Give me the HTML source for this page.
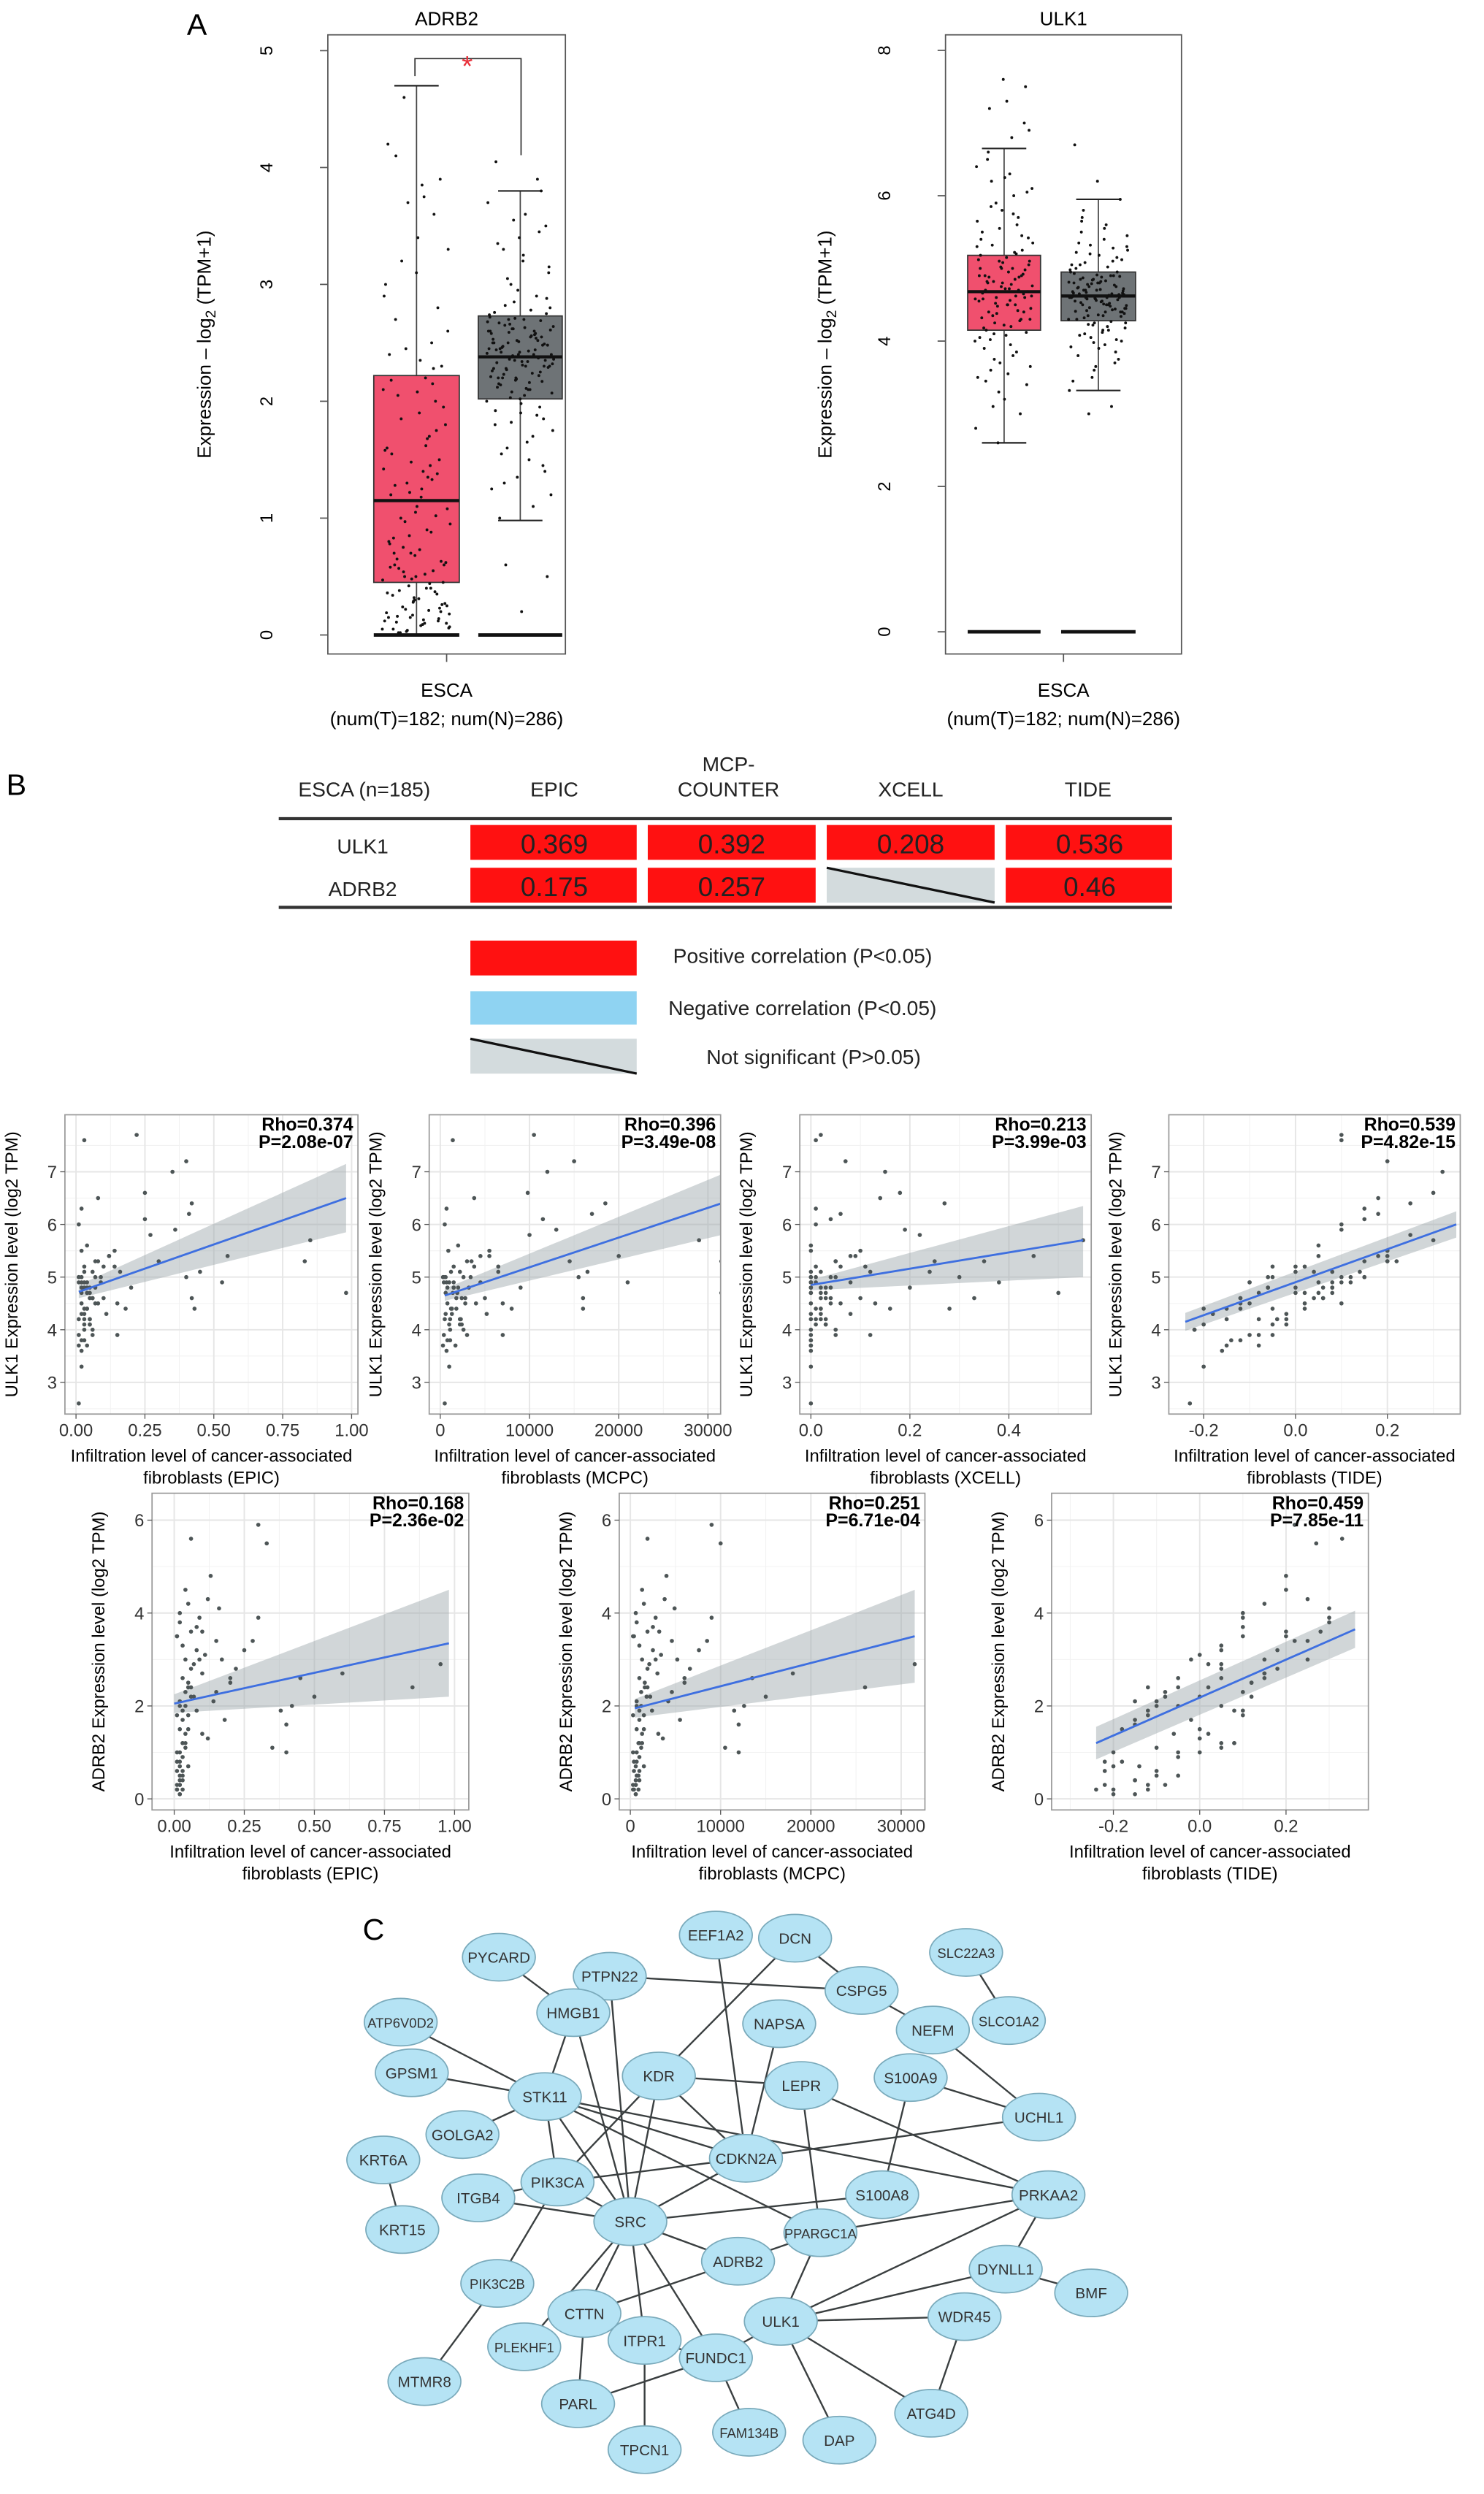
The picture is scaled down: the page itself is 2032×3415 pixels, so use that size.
<!DOCTYPE html>
<html><head><meta charset="utf-8"><style>
html,body{margin:0;padding:0;background:#fff}
svg{display:block}
text{font-family:"Liberation Sans",sans-serif}
</style></head><body>
<svg id="fig" xmlns="http://www.w3.org/2000/svg" width="2032" height="3415" viewBox="0 0 937 1575" preserveAspectRatio="none">
<rect x="0" y="0" width="937" height="1575" fill="#fff"/>
<text x="118" y="22" font-size="19">A</text>
<text x="4" y="502" font-size="19">B</text>
<text x="229" y="1225" font-size="19">C</text>

<g font-size="13" fill="#222">
<text x="230" y="503" text-anchor="middle">ESCA (n=185)</text>
<text x="350" y="503" text-anchor="middle">EPIC</text>
<text x="460" y="487" text-anchor="middle">MCP-</text>
<text x="460" y="503" text-anchor="middle">COUNTER</text>
<text x="575" y="503" text-anchor="middle">XCELL</text>
<text x="687" y="503" text-anchor="middle">TIDE</text>
<line x1="176" y1="517" x2="740" y2="517" stroke="#333" stroke-width="2"/>
<line x1="176" y1="573" x2="740" y2="573" stroke="#333" stroke-width="2"/>
<text x="229" y="539" text-anchor="middle">ULK1</text>
<text x="229" y="566" text-anchor="middle">ADRB2</text>
<g font-size="17" text-anchor="middle" fill="#222">
<rect x="297" y="521" width="105" height="22" fill="#ff1111"/>
<text x="350" y="539">0.369</text>
<rect x="409" y="521" width="106" height="22" fill="#ff1111"/>
<text x="462" y="539">0.392</text>
<rect x="522" y="521" width="106" height="22" fill="#ff1111"/>
<text x="575" y="539">0.208</text>
<rect x="635" y="521" width="105" height="22" fill="#ff1111"/>
<text x="688" y="539">0.536</text>
<rect x="297" y="548" width="105" height="22" fill="#ff1111"/>
<text x="350" y="566">0.175</text>
<rect x="409" y="548" width="106" height="22" fill="#ff1111"/>
<text x="462" y="566">0.257</text>
<rect x="522" y="548" width="106" height="22" fill="#d3dbdd"/>
<line x1="522" y1="548" x2="628" y2="570" stroke="#111" stroke-width="1.5"/>
<rect x="635" y="548" width="105" height="22" fill="#ff1111"/>
<text x="688" y="566">0.46</text>
</g>
</g>
<g font-size="13" fill="#222">
<rect x="297" y="594" width="105" height="22" fill="#ff1111"/>
<text x="425" y="608">Positive correlation (P&lt;0.05)</text>
<rect x="297" y="626" width="105" height="21" fill="#8fd3f2"/>
<text x="422" y="641">Negative correlation (P&lt;0.05)</text>
<rect x="297" y="656" width="105" height="22" fill="#d3dbdd"/>
<line x1="297" y1="656" x2="402" y2="678" stroke="#111" stroke-width="1.5"/>
<text x="446" y="672">Not significant (P&gt;0.05)</text>
</g>
<g id="dyn"></g>
</svg>
<script>
// ---------- data: box plots ----------
const adrb2TumorBox = [0.45, 1.15, 2.22, 0.0, 4.7]; // q1, median, q3, lowWhisker, highWhisker
const adrb2NormalBox = [2.02, 2.38, 2.73, 0.98, 3.8];
const ulk1TumorBox = [4.15, 4.68, 5.18, 2.6, 6.65];
const ulk1NormalBox = [4.28, 4.62, 4.95, 3.32, 5.95];
const adrb2TumorPts = [0.05,0.1,0.02,0.2,0.3,0.15,0.4,0.5,0.25,0.08,0.6,0.35,0.7,0.12,0.9,1.0,0.45,1.1,1.2,0.55,1.3,0.18,1.4,0.65,1.5,0.28,1.6,1.7,0.75,1.8,1.9,0.05,2.0,0.85,2.1,2.2,0.38,2.3,1.05,2.4,2.5,0.22,2.6,1.25,2.7,2.8,0.48,3.0,1.35,3.2,0.6,3.4,1.55,3.6,3.7,0.95,3.75,2.05,3.9,0.32,4.2,1.45,4.6,0.1,2.35,0.7,1.75,0.15,2.9,0.4,0.02,1.15,3.1,0.58,2.15,
 0.03,0.06,0.09,0.11,0.14,0.17,0.19,0.21,0.24,0.27,0.31,0.34,0.37,0.42,0.47,0.52,0.57,0.63,0.68,0.8,0.88,0.97,1.08,1.18,1.28,1.38,1.48,1.58,1.68,1.85,1.95,2.08,2.18,2.28,0.04,0.07,0.13,0.16,0.23,0.29,0.36,0.44,0.54,0.62,0.73,0.83,1.02,1.22,1.42,1.62,0.01,0.26,0.5,0.78,1.33,2.45,3.3,3.85,4.1,0.12];
const adrb2NormalPts = [2.0,2.1,2.2,2.3,2.4,2.5,2.6,2.7,2.8,2.05,2.15,2.25,2.35,2.45,2.55,2.65,2.75,1.9,1.8,2.9,3.0,2.32,2.38,2.42,2.48,2.52,2.58,1.7,1.6,3.1,3.2,2.12,2.22,2.62,2.68,1.5,3.3,1.4,3.4,2.28,2.44,2.36,1.2,3.6,1.0,3.8,2.18,2.72,2.56,0.6,0.5,0.2,4.05,3.9,2.08,2.64,2.34,2.46,1.85,2.95,2.26,2.4,2.5,2.3,2.7,2.2,1.95,2.85,2.6,2.1,1.3,3.5,2.02,2.76,2.54,
 2.03,2.07,2.11,2.14,2.17,2.19,2.21,2.24,2.27,2.29,2.31,2.33,2.37,2.39,2.41,2.43,2.47,2.49,2.51,2.53,2.57,2.59,2.61,2.63,2.67,2.69,2.71,2.74,2.78,2.82,2.88,1.98,1.92,1.88,1.82,1.75,1.65,1.55,1.45,1.35,1.25,1.1,3.05,3.15,3.25,3.35,3.45,3.55,3.7,2.16,2.23,2.35,2.42,2.5,2.58,2.66,2.4,2.3,2.45,2.55,2.2,2.6,2.38,2.28,2.48,2.34,2.44,2.52,2.62,2.36];
const ulk1TumorPts = [4.0,4.2,4.4,4.6,4.8,5.0,5.2,4.1,4.3,4.5,4.7,4.9,5.1,5.3,3.8,3.6,3.4,3.2,5.5,5.7,5.9,6.1,6.3,6.5,4.65,4.75,4.55,4.85,4.35,5.05,5.15,3.9,3.0,2.6,2.8,6.8,7.2,7.5,7.6,5.4,5.6,4.25,4.45,4.95,4.15,5.25,3.7,3.5,6.0,6.2,4.68,4.72,4.58,4.88,4.38,5.35,3.95,6.6,7.0,5.8,4.05,4.62,4.82,5.1,4.5,4.9,4.3,3.3,6.4,5.0,
 4.02,4.12,4.22,4.32,4.42,4.52,4.62,4.72,4.82,4.92,5.02,5.12,5.22,5.32,5.42,4.08,4.18,4.28,4.48,4.58,4.78,4.88,4.98,5.08,5.18,3.85,3.75,3.65,3.55,3.45,5.45,5.55,5.65,5.75,5.85,6.05,6.25,4.66,4.7,4.6,4.76,4.56,4.8,4.4,5.0,4.9,4.5,3.1,6.9,7.3];
const ulk1NormalPts = [4.3,4.4,4.5,4.6,4.7,4.8,4.9,4.35,4.45,4.55,4.65,4.75,4.85,4.95,4.2,4.1,4.0,3.9,5.0,5.1,5.2,5.3,5.4,5.5,4.62,4.58,4.68,4.52,4.42,4.72,4.82,3.8,3.7,3.5,3.32,5.6,5.8,5.95,6.2,6.7,3.1,3.0,4.25,4.15,5.05,5.15,3.6,4.6,4.5,4.7,4.4,4.8,4.3,4.9,4.05,5.25,3.95,5.7,4.64,4.56,4.66,4.48,4.78,4.38,4.88,5.35,3.85,4.22,4.98,4.6,
 4.32,4.34,4.36,4.41,4.43,4.46,4.49,4.51,4.53,4.57,4.59,4.61,4.63,4.67,4.69,4.71,4.73,4.77,4.79,4.81,4.83,4.87,4.89,4.91,4.93,4.27,4.23,4.18,4.12,4.08,4.02,3.98,3.92,5.02,5.08,5.12,5.18,5.22,5.28,5.32,5.45,5.55,5.65,3.75,3.65,3.45,4.62,4.58,4.64,4.54,4.74,4.44,4.84,4.6,4.5,4.7,4.4,4.8,4.55,4.65,4.75,4.45,4.35,4.85,4.95,4.25,5.05,4.15,4.6,4.66];

// ---------- data: scatter plots ----------
const ulk1Expr = [4.7,5.2,4.9,4.4,5.5,4.1,3.8,6.3,4.6,5.0,4.3,3.7,5.3,4.8,6.0,4.5,3.3,4.2,5.1,4.9,5.6,4.0,7.6,4.6,3.9,5.4,4.7,6.5,4.4,5.0,2.6,4.8,5.2,6.6,4.3,5.8,4.1,7.7,5.3,4.5,6.1,3.9,5.0,7.2,4.6,5.9,6.4,4.9,5.1,4.8,7.0,5.4,4.4,5.7,4.2,5.3,6.2,4.7,4.8,5.0,
 4.5,4.8,5.1,4.2,3.9,4.6,5.3,4.9,4.4,5.0,3.7,4.7,5.2,4.3,4.1,5.4,4.8,3.8,4.6,5.0,4.9,4.2,5.5,4.0,4.7,3.6,5.1,4.4,4.5,4.9];
const ulk1Epic = [0.02,0.03,0.01,0.04,0.02,0.05,0.03,0.02,0.06,0.01,0.03,0.04,0.07,0.02,0.01,0.08,0.02,0.05,0.03,0.09,0.04,0.06,0.03,0.1,0.15,0.12,0.04,0.08,0.18,0.02,0.01,0.2,0.14,0.25,0.11,0.27,0.05,0.22,0.3,0.15,0.25,0.06,0.4,0.4,0.42,0.36,0.42,0.53,0.45,0.03,0.35,0.55,0.43,0.85,0.05,0.83,0.41,0.98,0.07,0.01,
 0.02,0.04,0.06,0.03,0.01,0.05,0.08,0.02,0.03,0.07,0.01,0.04,0.1,0.02,0.03,0.12,0.05,0.02,0.06,0.09,0.04,0.01,0.14,0.03,0.05,0.02,0.16,0.04,0.07,0.03];
const ulk1Mcpc = [600,1500,400,1800,900,2200,1100,700,2800,300,1300,1700,3500,800,500,4000,1000,2300,1200,4500,2000,2600,1400,5000,7000,5500,1900,3800,8000,600,500,9000,6500,9800,5200,10000,2400,10500,14500,7000,11500,3000,15500,15000,16000,13000,18500,21000,16500,1500,12000,20000,16000,29000,2200,31500,17000,31500,3200,400,
 800,1500,2200,1100,400,1800,3000,700,1200,2600,300,1400,3800,600,1000,4500,2000,800,2400,3400,1500,500,5500,1100,1900,700,6500,1300,2800,1000];
const ulk1Xcell = [0,0.01,0,0.02,0,0.03,0,0.01,0.04,0,0.02,0,0.05,0,0.01,0.06,0,0.03,0.02,0.08,0,0.05,0.01,0.1,0.12,0.09,0,0.14,0.16,0.01,0,0.2,0.11,0.18,0.08,0.22,0.03,0.02,0.25,0.13,0.04,0.05,0.3,0.07,0.33,0.19,0.27,0.38,0.24,0,0.15,0.45,0.28,0.55,0.02,0.35,0.06,0.5,0.04,0,
 0,0.02,0,0.01,0,0.03,0.05,0,0.01,0.04,0,0.02,0.06,0,0.01,0.08,0.03,0,0.02,0.05,0.01,0,0.1,0,0.03,0,0.12,0.02,0.04,0];
const ulk1Tide = [0.05,-0.05,0.1,-0.15,0.2,-0.05,-0.12,0.15,0.04,-0.06,-0.18,-0.15,0.2,0.08,0.1,-0.12,-0.2,-0.02,0.0,0.12,0.05,-0.22,0.1,0.06,-0.1,0.2,-0.08,0.18,0.02,-0.05,-0.23,0.08,0.0,0.3,-0.02,0.25,-0.2,0.1,0.22,0.02,0.15,-0.08,0.15,0.2,-0.12,0.1,0.25,-0.1,0.14,0.06,0.32,0.05,-0.05,0.3,-0.08,0.2,0.18,0.08,-0.06,0.15,
 -0.1,0.0,0.08,-0.15,-0.05,-0.12,0.15,0.05,-0.2,0.1,-0.08,0.02,0.02,-0.18,-0.02,0.18,-0.06,-0.14,0.06,0.12,-0.1,-0.04,0.2,-0.22,0.0,-0.16,0.04,-0.12,0.1,0.08];
const adrb2Expr = [0.1,0.3,1.2,2.0,3.5,0.5,1.8,2.6,4.0,0.8,2.2,1.5,3.0,0.2,2.9,1.0,3.8,2.4,0.6,1.9,3.3,2.7,0.4,1.3,2.1,4.5,3.6,1.7,2.5,0.9,5.9,3.1,1.1,2.3,4.2,1.6,2.8,0.7,3.9,2.0,5.5,1.4,3.2,2.6,4.8,1.9,3.4,2.2,0.3,4.1,2.9,1.0,3.7,2.4,5.6,1.2,3.0,2.7,2.1,3.5,
 0.2,0.5,1.0,1.5,2.3,0.1,2.8,1.8,3.2,0.4,2.0,1.2,3.6,0.6,2.5,0.3,1.7,4.3,2.2,0.8,3.0,1.4,2.6,0.2,3.4,1.9,0.7,2.4,1.1,3.9];
const adrb2Epic = [0.02,0.01,0.03,0.04,0.01,0.02,0.05,0.03,0.02,0.01,0.06,0.02,0.04,0.03,0.07,0.01,0.02,0.05,0.03,0.08,0.03,0.1,0.02,0.12,0.14,0.04,0.06,0.18,0.2,0.03,0.3,0.11,0.35,0.15,0.05,0.4,0.22,0.05,0.09,0.42,0.33,0.1,0.25,0.45,0.13,0.38,0.28,0.5,0.02,0.16,0.95,0.4,0.08,0.85,0.06,0.03,0.17,0.6,0.02,0.01,
 0.01,0.03,0.02,0.05,0.04,0.02,0.06,0.01,0.08,0.03,0.02,0.04,0.1,0.01,0.05,0.02,0.03,0.12,0.07,0.02,0.09,0.04,0.2,0.01,0.15,0.03,0.02,0.06,0.04,0.3];
const adrb2Mcpc = [600,300,900,1200,300,700,1500,1000,600,400,1800,700,1300,900,2100,300,700,1600,1000,2400,1000,3000,600,3600,4200,1300,1900,5500,6000,1000,9000,3400,10500,4600,1500,12000,6600,1500,2800,12600,10000,3100,7600,13500,4000,11500,8500,15000,600,4900,31500,12000,2500,26000,1900,1000,5200,18000,700,400,
 400,900,700,1500,1200,600,1900,300,2500,1000,700,1300,3200,400,1600,600,1000,3800,2200,700,2800,1300,6000,300,4600,1000,600,1900,1200,9000];
const adrb2Tide = [-0.15,-0.22,0.05,-0.1,0.2,-0.05,0.1,-0.05,0.1,-0.22,0.12,0.0,0.25,-0.12,0.02,-0.2,0.3,-0.05,-0.1,0.08,0.05,0.15,-0.15,0.0,-0.1,0.2,0.28,-0.15,0.12,-0.05,0.22,0.0,0.05,-0.08,0.15,-0.15,0.18,-0.2,0.1,0.05,0.27,0.02,0.05,0.15,0.2,-0.12,0.25,-0.08,-0.12,0.3,0.05,-0.05,0.1,-0.12,0.33,0.08,-0.02,0.15,-0.15,0.1,
 -0.24,-0.1,0.0,-0.18,0.1,-0.2,0.05,-0.12,0.18,-0.15,-0.05,0.08,0.2,-0.22,0.12,-0.08,-0.02,0.25,0.0,-0.18,0.15,-0.06,0.05,-0.2,0.22,0.1,-0.14,0.02,-0.1,0.3];
// fits: [x0, y0, x1, y1, bandLo1, bandHi1, bandLo0, bandHi0]
const fitP1 = [0.01,4.72,0.98,6.5,5.85,7.15,4.6,4.85];
const fitP2 = [500,4.65,31500,6.4,5.8,6.95,4.55,4.78];
const fitP3 = [0.0,4.85,0.55,5.7,5.0,6.35,4.75,4.95];
const fitP4 = [-0.24,4.15,0.35,6.0,5.75,6.25,3.98,4.32];
const fitP5 = [0.0,2.05,0.98,3.35,2.2,4.5,1.85,2.25];
const fitP6 = [500,1.95,31500,3.5,2.5,4.5,1.75,2.15];
const fitP7 = [-0.24,1.2,0.36,3.65,3.25,4.05,0.85,1.55];
const statP = [["Rho=0.374","P=2.08e-07"],["Rho=0.396","P=3.49e-08"],["Rho=0.213","P=3.99e-03"],["Rho=0.539","P=4.82e-15"],["Rho=0.168","P=2.36e-02"],["Rho=0.251","P=6.71e-04"],["Rho=0.459","P=7.85e-11"]];

const NS = 'http://www.w3.org/2000/svg';
const root = document.getElementById('dyn');
function mk(tag, attrs, parent){ const e=document.createElementNS(NS,tag); for(const k in attrs) e.setAttribute(k,attrs[k]); (parent||root).appendChild(e); return e; }
function tx(s, attrs, parent){ const e=mk('text',attrs,parent); e.textContent=s; return e; }

// ---------- box plots ----------
function boxPanel(o){
  const g = mk('g',{});
  
  
  const y = v => o.y0 - v*o.unit;
  const fr = mk('rect',{x:o.fx0,y:o.fy0,width:o.fx1-o.fx0,height:o.fy1-o.fy0,fill:'#fff',stroke:'#555','stroke-width':0.8},g);
  
  
  const t = tx(o.title,{x:(o.fx0+o.fx1)/2,y:o.fy0-6,'font-size':12,'text-anchor':'middle'},g);
  
  
  o.ticks.forEach(v=>{
    mk('line',{x1:o.fx0-5,x2:o.fx0,y1:y(v),y2:y(v),stroke:'#555','stroke-width':0.8},g);
    const lx = o.fx0-35;
    const l = tx(String(v),{x:lx,y:y(v),'font-size':11,'text-anchor':'middle',transform:`rotate(-90 ${lx} ${y(v)})`},g);
    
    
  });
  const yl = tx('',{x:o.ylx,y:(o.fy0+o.fy1)/2,'font-size':12,'text-anchor':'middle',transform:`rotate(-90 ${o.ylx} ${(o.fy0+o.fy1)/2})`},g);
  yl.innerHTML = 'Expression – log<tspan font-size="9" dy="3">2</tspan><tspan dy="-3"> (TPM+1)</tspan>';
  
  
  const cx = (o.fx0+o.fx1)/2;
  mk('line',{x1:cx,x2:cx,y1:o.fy1,y2:o.fy1+5,stroke:'#555','stroke-width':0.8},g);
  const x1 = tx('ESCA',{x:cx,y:o.fy1+27,'font-size':12,'text-anchor':'middle'},g);
  
  
  const x2 = tx('(num(T)=182; num(N)=286)',{x:cx,y:o.fy1+45,'font-size':12,'text-anchor':'middle'},g);
  
  
  [[o.tBox,o.tx0,o.tx1,'#f0506e',o.tPts,'tumor'],[o.nBox,o.nx0,o.nx1,'#6e7376',o.nPts,'normal']].forEach(([b,a0,a1,col,pts,nm])=>{
    const m=(a0+a1)/2;
    const w = mk('line',{x1:m,x2:m,y1:y(b[4]),y2:y(b[3]),stroke:'#444','stroke-width':0.8},g);
    
    
    mk('line',{x1:m-14,x2:m+14,y1:y(b[4]),y2:y(b[4]),stroke:'#222','stroke-width':1},g);
    mk('line',{x1:m-14,x2:m+14,y1:y(b[3]),y2:y(b[3]),stroke:'#222','stroke-width':1},g);
    const r = mk('rect',{x:a0,y:y(b[2]),width:a1-a0,height:y(b[0])-y(b[2]),fill:col,stroke:'#333','stroke-width':0.8},g);
    
    
    const md = mk('line',{x1:a0,x2:a1,y1:y(b[1]),y2:y(b[1]),stroke:'#111','stroke-width':2},g);
    
    
    const zl = mk('line',{x1:a0,x2:a1,y1:y(0),y2:y(0),stroke:'#111','stroke-width':2.2},g);
    
    
    pts.forEach((v,i)=>{
      const j = ((i*0.618034)%1 - 0.5)*(a1-a0)*0.8;
      const p = mk('circle',{cx:m+j,cy:y(v),r:0.9,fill:'#111'},g);
      
      
    });
  });
  return g;
}
const gA = boxPanel({name:'adrb2-boxplot',title:'ADRB2',fx0:207,fx1:357,fy0:22,fy1:413,y0:401,unit:73.8,ticks:[0,1,2,3,4,5],ylx:133,
  tBox:adrb2TumorBox,tx0:236,tx1:290,tPts:adrb2TumorPts,nBox:adrb2NormalBox,nx0:302,nx1:355,nPts:adrb2NormalPts});
const br = mk('path',{d:'M262 48 V37 H329 V98',fill:'none',stroke:'#333','stroke-width':0.8},gA);


const st = tx('*',{x:295,y:48,'font-size':18,'text-anchor':'middle',fill:'#e8303a'},gA);


boxPanel({name:'ulk1-boxplot',title:'ULK1',fx0:597,fx1:746,fy0:22,fy1:413,y0:399,unit:45.9,ticks:[0,2,4,6,8],ylx:525,
  tBox:ulk1TumorBox,tx0:611,tx1:657,tPts:ulk1TumorPts,nBox:ulk1NormalBox,nx0:670,nx1:717,nPts:ulk1NormalPts});

// ---------- scatter panels ----------
function scatter(o, xs, ys, fit, stat){
  const g = mk('g',{});
  
  
  const X = v => o.xa + (v-o.xv0)*(o.xb-o.xa)/(o.xv1-o.xv0);
  const Y = v => o.ya + (v-o.yv0)*(o.yb-o.ya)/(o.yv1-o.yv0);
  mk('rect',{x:o.fx0,y:o.fy0,width:o.fx1-o.fx0,height:o.fy1-o.fy0,fill:'#fff'},g);
  const clip = 'c'+o.name;
  const cp = mk('clipPath',{id:clip},g); mk('rect',{x:o.fx0,y:o.fy0,width:o.fx1-o.fx0,height:o.fy1-o.fy0},cp);
  const gl = mk('g',{'clip-path':`url(#${clip})`},g);
  const minor = (arr)=>arr.slice(0,-1).map((v,i)=>(v+arr[i+1])/2);
  const xt=o.xticks, yt=o.yticks;
  const xStep = xt[1]-xt[0], yStep = yt[1]-yt[0];
  const xAll=[xt[0]-xStep,...xt,xt[xt.length-1]+xStep], yAll=[yt[0]-yStep,...yt,yt[yt.length-1]+yStep];
  minor(xAll).forEach(v=>mk('line',{x1:X(v),x2:X(v),y1:o.fy0,y2:o.fy1,stroke:'#f2f2f2','stroke-width':0.5},gl));
  minor(yAll).forEach(v=>mk('line',{y1:Y(v),y2:Y(v),x1:o.fx0,x2:o.fx1,stroke:'#f2f2f2','stroke-width':0.5},gl));
  xt.forEach(v=>mk('line',{x1:X(v),x2:X(v),y1:o.fy0,y2:o.fy1,stroke:'#e6e6e6','stroke-width':0.9},gl));
  yt.forEach(v=>mk('line',{y1:Y(v),y2:Y(v),x1:o.fx0,x2:o.fx1,stroke:'#e6e6e6','stroke-width':0.9},gl));
  const band = mk('polygon',{points:`${X(fit[0])},${Y(fit[7])} ${X(fit[2])},${Y(fit[5])} ${X(fit[2])},${Y(fit[4])} ${X(fit[0])},${Y(fit[6])}`,fill:'#9aa4a8','fill-opacity':0.45},gl);
  
  
  xs.forEach((v,i)=>{
    const p = mk('circle',{cx:X(v),cy:Y(ys[i]),r:1.3,fill:'#4d5556'},gl);
    
    
  });
  const ln = mk('line',{x1:X(fit[0]),y1:Y(fit[1]),x2:X(fit[2]),y2:Y(fit[3]),stroke:'#3e6fe0','stroke-width':1.3},gl);
  
  
  mk('rect',{x:o.fx0,y:o.fy0,width:o.fx1-o.fx0,height:o.fy1-o.fy0,fill:'none',stroke:'#999','stroke-width':0.8},g);
  const s1 = tx(stat[0],{x:o.fx1-3,y:o.fy0+10,'font-size':11.5,'font-weight':'bold','text-anchor':'end'},g);
  
  
  const s2 = tx(stat[1],{x:o.fx1-3,y:o.fy0+21,'font-size':11.5,'font-weight':'bold','text-anchor':'end'},g);
  
  
  o.yticks.forEach(v=>{
    mk('line',{x1:o.fx0-3,x2:o.fx0,y1:Y(v),y2:Y(v),stroke:'#555','stroke-width':0.6},g);
    const l=tx(String(v),{x:o.fx0-5,y:Y(v)+4,'font-size':11,'text-anchor':'end',fill:'#333'},g);
    
    
  });
  o.xticks.forEach((v,i)=>{
    mk('line',{x1:X(v),x2:X(v),y1:o.fy1,y2:o.fy1+3,stroke:'#555','stroke-width':0.6},g);
    const l=tx(o.xlabels[i],{x:X(v),y:o.fy1+14,'font-size':11,'text-anchor':'middle',fill:'#333'},g);
    
    
  });
  const cy=(o.fy0+o.fy1)/2, lx=o.fx0-30;
  const yl=tx(o.ylab,{x:lx,y:cy,'font-size':11,'text-anchor':'middle',transform:`rotate(-90 ${lx} ${cy})`},g);
  
  
  const cx=(o.fx0+o.fx1)/2;
  const a1=tx('Infiltration level of cancer-associated',{x:cx,y:o.fy1+30,'font-size':11,'text-anchor':'middle'},g);
  
  
  const a2=tx(o.xlab2,{x:cx,y:o.fy1+44,'font-size':11,'text-anchor':'middle'},g);
  
  
}
const r1 = {fy0:704,fy1:893,ya:873,yb:740,yv0:3,yv1:7,yticks:[3,4,5,6,7],ylab:'ULK1 Expression level (log2 TPM)'};
const r2 = {fy0:943,fy1:1143,ya:1136,yb:960,yv0:0,yv1:6,yticks:[0,2,4,6],ylab:'ADRB2 Expression level (log2 TPM)'};
scatter({...r1,name:'scatter-ulk1-epic',fx0:41,fx1:226,xa:48,xb:222,xv0:0,xv1:1,xticks:[0,0.25,0.5,0.75,1],xlabels:['0.00','0.25','0.50','0.75','1.00'],xlab2:'fibroblasts (EPIC)'},ulk1Epic,ulk1Expr,fitP1,statP[0]);
scatter({...r1,name:'scatter-ulk1-mcpc',fx0:271,fx1:455,xa:278,xb:447,xv0:0,xv1:30000,xticks:[0,10000,20000,30000],xlabels:['0','10000','20000','30000'],xlab2:'fibroblasts (MCPC)'},ulk1Mcpc,ulk1Expr,fitP2,statP[1]);
scatter({...r1,name:'scatter-ulk1-xcell',fx0:505,fx1:689,xa:512,xb:637,xv0:0,xv1:0.4,xticks:[0,0.2,0.4],xlabels:['0.0','0.2','0.4'],xlab2:'fibroblasts (XCELL)'},ulk1Xcell,ulk1Expr,fitP3,statP[2]);
scatter({...r1,name:'scatter-ulk1-tide',fx0:738,fx1:922,xa:760,xb:876,xv0:-0.2,xv1:0.2,xticks:[-0.2,0,0.2],xlabels:['-0.2','0.0','0.2'],xlab2:'fibroblasts (TIDE)'},ulk1Tide,ulk1Expr,fitP4,statP[3]);
scatter({...r2,name:'scatter-adrb2-epic',fx0:96,fx1:296,xa:110,xb:287,xv0:0,xv1:1,xticks:[0,0.25,0.5,0.75,1],xlabels:['0.00','0.25','0.50','0.75','1.00'],xlab2:'fibroblasts (EPIC)'},adrb2Epic,adrb2Expr,fitP5,statP[4]);
scatter({...r2,name:'scatter-adrb2-mcpc',fx0:391,fx1:584,xa:398,xb:569,xv0:0,xv1:30000,xticks:[0,10000,20000,30000],xlabels:['0','10000','20000','30000'],xlab2:'fibroblasts (MCPC)'},adrb2Mcpc,adrb2Expr,fitP6,statP[5]);
scatter({...r2,name:'scatter-adrb2-tide',fx0:664,fx1:864,xa:703,xb:812,xv0:-0.2,xv1:0.2,xticks:[-0.2,0,0.2],xlabels:['-0.2','0.0','0.2'],xlab2:'fibroblasts (TIDE)'},adrb2Tide,adrb2Expr,fitP7,statP[6]);

// ---------- network ----------
const nodes = {EEF1A2:[452,1222],DCN:[502,1224],PYCARD:[315,1236],PTPN22:[385,1248],CSPG5:[544,1257],SLC22A3:[610,1233],SLCO1A2:[637,1276],HMGB1:[362,1271],ATP6V0D2:[253,1277],NAPSA:[492,1278],NEFM:[589,1282],GPSM1:[260,1309],STK11:[344,1324],KDR:[416,1311],LEPR:[506,1317],S100A9:[575,1312],UCHL1:[656,1337],GOLGA2:[292,1348],KRT6A:[242,1364],CDKN2A:[471,1363],PIK3CA:[352,1378],ITGB4:[302,1388],S100A8:[557,1386],PRKAA2:[662,1386],KRT15:[254,1408],SRC:[398,1403],PPARGC1A:[518,1410],ADRB2:[466,1428],DYNLL1:[635,1433],BMF:[689,1448],PIK3C2B:[314,1442],CTTN:[369,1461],ULK1:[493,1466],WDR45:[609,1463],ITPR1:[407,1478],FUNDC1:[452,1489],PLEKHF1:[331,1482],MTMR8:[268,1504],PARL:[365,1518],ATG4D:[588,1524],FAM134B:[473,1536],DAP:[530,1541],TPCN1:[407,1547]};
const edges = [['PYCARD','HMGB1'],['HMGB1','STK11'],['HMGB1','SRC'],['PTPN22','SRC'],['PTPN22','CSPG5'],['DCN','CSPG5'],['DCN','KDR'],['EEF1A2','CDKN2A'],['NAPSA','CDKN2A'],['CSPG5','NEFM'],['NEFM','UCHL1'],['SLC22A3','SLCO1A2'],['ATP6V0D2','STK11'],['GPSM1','STK11'],['GOLGA2','STK11'],['STK11','PIK3CA'],['STK11','SRC'],['STK11','CDKN2A'],['STK11','PRKAA2'],['STK11','PPARGC1A'],['KDR','LEPR'],['KDR','CDKN2A'],['KDR','SRC'],['KDR','PIK3CA'],['LEPR','PPARGC1A'],['LEPR','PRKAA2'],['S100A9','UCHL1'],['S100A9','S100A8'],['UCHL1','CDKN2A'],['CDKN2A','PIK3CA'],['CDKN2A','SRC'],['KRT6A','KRT15'],['PIK3CA','ITGB4'],['PIK3CA','SRC'],['PIK3CA','PIK3C2B'],['ITGB4','SRC'],['SRC','S100A8'],['SRC','ADRB2'],['SRC','CTTN'],['SRC','ITPR1'],['SRC','FUNDC1'],['SRC','PLEKHF1'],['ADRB2','PPARGC1A'],['ADRB2','CTTN'],['PPARGC1A','PRKAA2'],['PPARGC1A','ULK1'],['PRKAA2','DYNLL1'],['PRKAA2','ULK1'],['DYNLL1','BMF'],['DYNLL1','ULK1'],['ULK1','WDR45'],['ULK1','FUNDC1'],['ULK1','DAP'],['ULK1','ATG4D'],['WDR45','ATG4D'],['PIK3C2B','MTMR8'],['CTTN','PARL'],['ITPR1','FUNDC1'],['ITPR1','TPCN1'],['FUNDC1','PARL'],['FUNDC1','FAM134B']];
const gN = mk('g',{});


edges.forEach(([a,b])=>{
  const e = mk('line',{x1:nodes[a][0],y1:nodes[a][1],x2:nodes[b][0],y2:nodes[b][1],stroke:'#3a3f40','stroke-width':1.1},gN);
  
  
});
Object.keys(nodes).forEach(k=>{
  const [x,y]=nodes[k];
  const n = mk('g',{},gN);
  
  
  mk('ellipse',{cx:x,cy:y,rx:23,ry:15,fill:'#b5e3f4',stroke:'#7aaabb','stroke-width':0.8},n);
  tx(k,{x:x,y:y+3.5,'font-size':k.length>6?8.5:9.5,'text-anchor':'middle',fill:'#333'},n);
});
</script>
</body></html>
